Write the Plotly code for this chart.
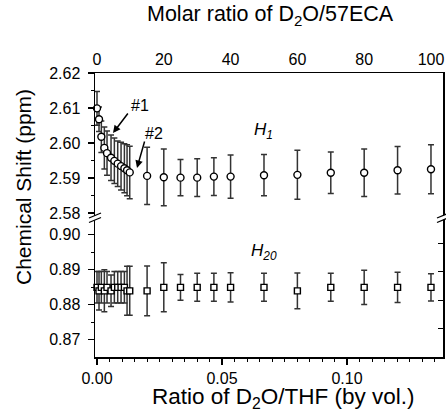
import plotly.graph_objects as go

# ---------------- data ----------------
molar_ratio = [0, 0.6, 1.3, 2.2, 3.0, 4.2, 5.2, 6.2, 7.2, 8.2, 9.0, 9.8,
               15, 20, 25, 30, 35, 40, 50, 60, 70, 80, 90, 100]
h1_shift = [2.6099, 2.6068, 2.6018, 2.5986, 2.5971, 2.5958, 2.5949, 2.5941,
            2.5934, 2.5928, 2.5922, 2.5916, 2.5906, 2.5902, 2.5901, 2.5901,
            2.5904, 2.5904, 2.5908, 2.5909, 2.5915, 2.5915, 2.5922, 2.5925]
h1_err = [0.0048, 0.0035, 0.0045, 0.006, 0.0063, 0.0065, 0.0065, 0.0065,
          0.0068, 0.007, 0.0073, 0.0075, 0.0082, 0.0081, 0.0052, 0.0054,
          0.0054, 0.0062, 0.0059, 0.007, 0.0059, 0.0068, 0.0068, 0.007]
h20_shift = [0.885, 0.884, 0.885, 0.884, 0.885, 0.884, 0.885, 0.885, 0.885,
             0.885, 0.884, 0.884, 0.884, 0.885, 0.885, 0.885, 0.885, 0.885,
             0.885, 0.884, 0.885, 0.885, 0.885, 0.885]
h20_err = [0.0045, 0.0055, 0.0045, 0.006, 0.0045, 0.0045, 0.0045, 0.0045,
           0.0045, 0.0045, 0.007, 0.007, 0.0071, 0.007, 0.0037, 0.004, 0.004,
           0.0042, 0.004, 0.0051, 0.004, 0.0049, 0.0043, 0.0039]

upper_ticks = [2.58, 2.59, 2.60, 2.61, 2.62]
lower_ticks = [0.87, 0.88, 0.89, 0.90]
bottom_ticks = [0.00, 0.05, 0.10]
top_ticks = [0, 20, 40, 60, 80, 100]

# ---------------- layout geometry ----------------
W, H = 446, 411
L, R, T, B = 95, 443, 73, 357
PW, PH = R - L, B - T
FONT = "Liberation Sans, Arial, sans-serif"
INK = "#000000"
BAR = "#333333"


def px(x):
    return (x - L) / PW


def py(y):
    return (B - y) / PH


split = py(215)
up_range = [2.62 - (215 - T) / 3500, 2.62]
lo_range = [0.8651, 0.8651 + (B - 215) / 3500]

fig = go.Figure()

fig.add_trace(go.Scatter(
    x=molar_ratio, y=h1_shift, xaxis="x2", yaxis="y2", mode="markers",
    marker=dict(symbol="circle", size=7, color="white",
                line=dict(color=INK, width=1.4)),
    error_y=dict(type="data", array=h1_err, color=BAR, thickness=1.5, width=3),
    showlegend=False, cliponaxis=False, hoverinfo="skip"))

fig.add_trace(go.Scatter(
    x=molar_ratio, y=h20_shift, xaxis="x2", yaxis="y", mode="markers",
    marker=dict(symbol="square", size=6, color="white",
                line=dict(color=INK, width=1.4)),
    error_y=dict(type="data", array=h20_err, color=BAR, thickness=1.5, width=3),
    showlegend=False, cliponaxis=False, hoverinfo="skip"))

# empty traces so that the bottom and right axes get their own subplots drawn
for ya in ("y", "y3", "y4"):
    fig.add_trace(go.Scatter(x=[], y=[], xaxis="x", yaxis=ya,
                             showlegend=False, hoverinfo="skip"))

tickfont = dict(family=FONT, size=16, color=INK)
axis_common = dict(showline=True, linecolor=INK, linewidth=1.5, showgrid=False,
                   zeroline=False, tickcolor=INK, tickwidth=1.2,
                   tickfont=tickfont, fixedrange=True)

fig.update_layout(
    width=W, height=H,
    margin=dict(l=L, r=W - R, t=T, b=H - B, pad=0),
    paper_bgcolor="white", plot_bgcolor="white",
    font=dict(family=FONT, color=INK),
    xaxis=dict(**axis_common, domain=[0, 1], anchor="y", side="bottom",
               range=[-0.0008, 0.1384], tickvals=bottom_ticks,
               tickformat=".2f", ticks="outside", ticklen=6,
               ticklabelstandoff=0,
               minor=dict(dtick=0.005, tick0=0, ticks="outside", ticklen=3,
                          tickcolor=INK, tickwidth=1)),
    xaxis2=dict(**axis_common, overlaying="x", anchor="y2", side="top",
                range=[-0.6, 103.6], tickvals=top_ticks, ticks="inside",
                ticklen=5, ticklabelstandoff=0,
                minor=dict(dtick=2, tick0=0, ticks="inside", ticklen=3,
                           tickcolor=INK, tickwidth=1)),
    yaxis=dict(**axis_common, domain=[0, split], anchor="x", range=lo_range,
               tickvals=lower_ticks, tickformat=".2f", ticks="outside",
               ticklen=6, ticklabelstandoff=4,
               minor=dict(dtick=0.005, tick0=0, ticks="outside", ticklen=3,
                          tickcolor=INK, tickwidth=1)),
    yaxis2=dict(**axis_common, domain=[split, 1], anchor="x", range=up_range,
                tickvals=upper_ticks, tickformat=".2f", ticks="outside",
                ticklen=6, ticklabelstandoff=4,
                minor=dict(dtick=0.005, tick0=0, ticks="outside", ticklen=3,
                           tickcolor=INK, tickwidth=1)),
    yaxis3=dict(**axis_common, overlaying="y", side="right", anchor="x",
                range=lo_range, ticks="inside", ticklen=5, showticklabels=False,
                tickvals=[lo_range[0] + k * (lo_range[1] - lo_range[0]) / 5
                          for k in range(1, 5)]),
    yaxis4=dict(**axis_common, overlaying="y2", side="right", anchor="x",
                range=up_range, ticks="inside", ticklen=5, showticklabels=False,
                tickvals=[up_range[0] + k * (up_range[1] - up_range[0]) / 5
                          for k in range(1, 5)]),
)

annotations = []


def text_ann(x, y, text, size, angle=0, xanchor="center"):
    annotations.append(dict(xref="paper", yref="paper", x=px(x), y=py(y),
                            text=text, showarrow=False, textangle=angle,
                            xanchor=xanchor, yanchor="middle",
                            font=dict(family=FONT, size=size, color=INK)))


text_ann(270, 16, "Molar ratio of D<sub>2</sub>O/57ECA", 21.5)
text_ann(283, 398, "Ratio of D<sub>2</sub>O/THF (by vol.)", 22.5)
text_ann(23, 187, "Chemical Shift (ppm)", 21)
annotations[-1]["textangle"] = -90
text_ann(140, 106, "#1", 16)
text_ann(154, 133, "#2", 16)
text_ann(263, 131, "<i>H<sub>1</sub></i>", 17)
text_ann(264, 252, "<i>H<sub>20</sub></i>", 17)


def arrow(hx, hy, tx, ty):
    annotations.append(dict(xref="paper", yref="paper", x=px(hx), y=py(hy),
                            ax=tx - hx, ay=ty - hy, axref="pixel", ayref="pixel",
                            text="", showarrow=True, arrowhead=2, arrowsize=1,
                            arrowwidth=1.5, arrowcolor=INK, standoff=0))


arrow(113, 133, 129, 112)
arrow(137, 168, 145, 140)

fig.update_layout(annotations=annotations)

# axis break marks
shapes = []
for cx in (L, R):
    shapes.append(dict(type="path", xref="paper", yref="paper",
                       path="M {} {} L {} {} L {} {} L {} {} Z".format(
                           px(cx - 6), py(218), px(cx + 6), py(213),
                           px(cx + 6), py(217.5), px(cx - 6), py(222.5)),
                       fillcolor="white", line=dict(width=0), layer="above"))
    for dy in (0, 4.5):
        shapes.append(dict(type="line", xref="paper", yref="paper",
                           x0=px(cx - 6), y0=py(218 + dy),
                           x1=px(cx + 6), y1=py(213 + dy),
                           line=dict(color=INK, width=1.3), layer="above"))
fig.update_layout(shapes=shapes)

fig.write_html("out.html",
               config={"displayModeBar": False, "staticPlot": True},
               post_script="document.body.style.margin='0';"
                           "document.body.style.overflow='hidden';")
